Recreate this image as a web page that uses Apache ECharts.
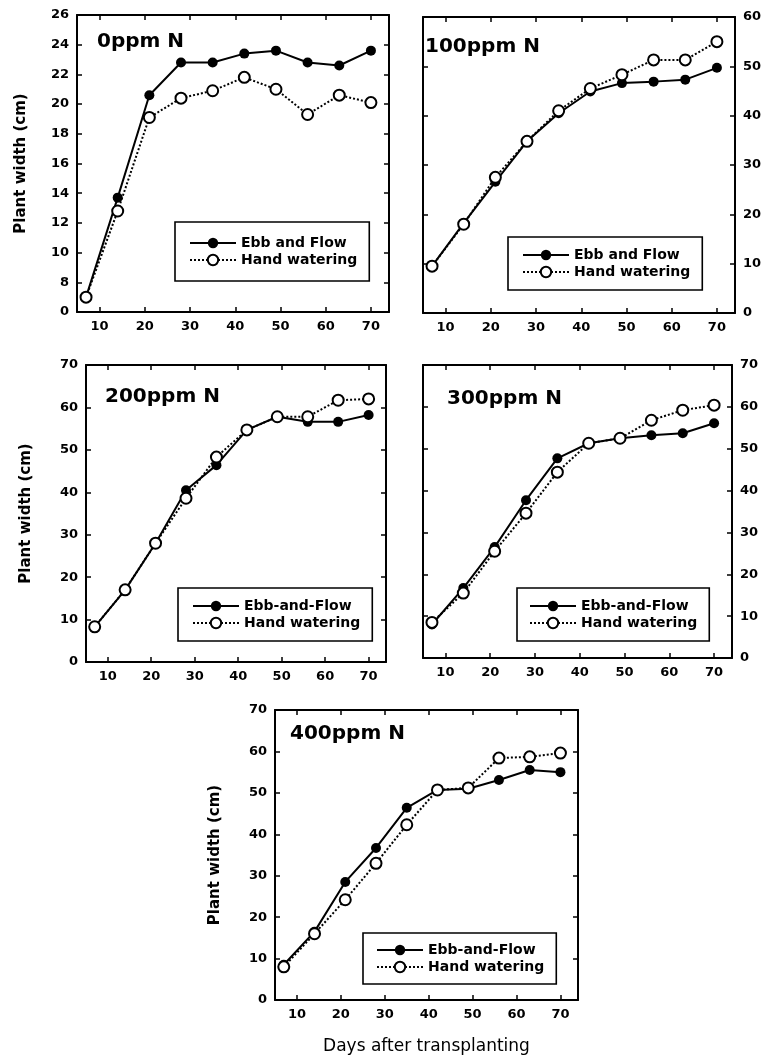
<!DOCTYPE html>
<html>
<head>
<meta charset="utf-8">
<script src="https://cdn.jsdelivr.net/npm/echarts@6/dist/echarts.min.js"></script>
<style>
  html, body { margin: 0; padding: 0; background: #fff; }
  #chart { width: 768px; height: 1060px; }
</style>
</head>
<body>
<div id="chart"></div>
<script>
// Sampling days (weekly measurements after transplanting)
const days = [7, 14, 21, 28, 35, 42, 49, 56, 63, 70];
const xTicks = [10, 20, 30, 40, 50, 60, 70];

// Plant width (cm) per nitrogen level
const ebb0    = [7.0, 13.7, 20.6, 22.8, 22.8, 23.4, 23.6, 22.8, 22.6, 23.6];
const hand0   = [7.0, 12.8, 19.1, 20.4, 20.9, 21.8, 21.0, 19.3, 20.6, 20.1];
const ebb100  = [9.5, 18.2, 26.6, 34.8, 40.5, 44.9, 46.6, 46.9, 47.3, 49.7];
const hand100 = [9.5, 18.0, 27.5, 34.8, 41.0, 45.5, 48.3, 51.3, 51.3, 55.0];
const ebb200  = [8.3, 17.0, 28.0, 40.5, 46.4, 54.7, 57.8, 56.6, 56.6, 58.2];
const hand200 = [8.3, 17.0, 28.0, 38.6, 48.3, 54.7, 57.8, 57.8, 61.7, 62.0];
const ebb300  = [8.0, 16.7, 26.5, 37.7, 47.7, 51.3, 52.5, 53.2, 53.7, 56.1];
const hand300 = [8.5, 15.5, 25.5, 34.6, 44.4, 51.3, 52.5, 56.8, 59.2, 60.4];
const ebb400  = [8.5, 16.5, 28.5, 36.7, 46.4, 50.7, 51.0, 53.1, 55.5, 55.0];
const hand400 = [8.0, 16.0, 24.2, 33.0, 42.3, 50.7, 51.2, 58.4, 58.7, 59.6];

// Texts
const panelTitles = ['0ppm N', '100ppm N', '200ppm N', '300ppm N', '400ppm N'];
const ebbNames = ['Ebb and Flow', 'Ebb and Flow', 'Ebb-and-Flow', 'Ebb-and-Flow', 'Ebb-and-Flow'];
const handName = 'Hand watering';
const yTitle = 'Plant width (cm)';
const xTitle = 'Days after transplanting';
// The 0ppm panel uses a broken axis: its lowest tick (6) is labelled 0
const yTickLabels0 = { 6: '0' };

const FONT = '"DejaVu Sans", "Liberation Sans", Arial, sans-serif';

const panels = [
  { ebb: ebb0, hand: hand0, yMin: 6, yMax: 26, yInt: 2, labelSide: 'left', yName: true,
    grid: { left: 77, top: 15, width: 312, height: 297 },
    title: { left: 97, top: 32 },
    legend: { left: 175, top: 222, padding: [14, 12, 14, 14] } },
  { ebb: ebb100, hand: hand100, yMin: 0, yMax: 60, yInt: 10, labelSide: 'right', yName: false,
    grid: { left: 423, top: 17, width: 312, height: 296 },
    title: { left: 425, top: 37 },
    legend: { left: 508, top: 237, padding: [11, 12, 11, 14] } },
  { ebb: ebb200, hand: hand200, yMin: 0, yMax: 70, yInt: 10, labelSide: 'left', yName: true,
    grid: { left: 86, top: 365, width: 300, height: 297 },
    title: { left: 105, top: 387 },
    legend: { left: 178, top: 588, padding: [11, 12, 11, 14] } },
  { ebb: ebb300, hand: hand300, yMin: 0, yMax: 70, yInt: 10, labelSide: 'right', yName: false,
    grid: { left: 423, top: 365, width: 309, height: 293 },
    title: { left: 447, top: 389 },
    legend: { left: 517, top: 588, padding: [11, 12, 11, 12] } },
  { ebb: ebb400, hand: hand400, yMin: 0, yMax: 70, yInt: 10, labelSide: 'left', yName: true,
    grid: { left: 275, top: 710, width: 303, height: 290 },
    title: { left: 290, top: 724 },
    legend: { left: 363, top: 933, padding: [10, 12, 10, 13] } }
];

const axisLine = { show: true, onZero: false, lineStyle: { color: '#000', width: 2 } };
const axisTick = (vals) => ({ show: true, inside: true, length: 5, customValues: vals,
  lineStyle: { color: '#000', width: 1.5 } });
const tickFont = { color: '#000', fontFamily: FONT, fontWeight: 'bold', fontSize: 13 };

const grids = [], xAxes = [], yAxes = [], series = [], legends = [], titles = [];

panels.forEach((p, i) => {
  grids.push(Object.assign({ containLabel: false, outerBoundsMode: 'none' }, p.grid));

  // bottom x axis with labels, top x axis with ticks only
  xAxes.push({
    type: 'value', gridIndex: i, position: 'bottom', min: 5, max: 74,
    axisLine, axisTick: axisTick(xTicks), splitLine: { show: false },
    axisLabel: Object.assign({ show: true, margin: 8, customValues: xTicks }, tickFont),
    name: i === 4 ? xTitle : '', nameLocation: 'middle', nameGap: 38,
    nameTextStyle: { color: '#000', fontFamily: FONT, fontSize: 17 }
  });
  xAxes.push({
    type: 'value', gridIndex: i, position: 'top', min: 5, max: 74,
    axisLine, axisTick: axisTick(xTicks), splitLine: { show: false },
    axisLabel: { show: false }
  });

  const fmt = (v) => (i === 0 && yTickLabels0[v] !== undefined) ? yTickLabels0[v] : String(v);
  ['left', 'right'].forEach((side) => {
    const showLabel = side === p.labelSide;
    yAxes.push({
      type: 'value', gridIndex: i, position: side, min: p.yMin, max: p.yMax, interval: p.yInt,
      axisLine, splitLine: { show: false },
      axisTick: { show: true, inside: true, length: 5, lineStyle: { color: '#000', width: 1.5 } },
      axisLabel: Object.assign({ show: showLabel, margin: 8, formatter: fmt }, tickFont),
      name: (side === 'left' && p.yName) ? yTitle : '',
      nameLocation: 'middle', nameRotate: 90, nameGap: i === 0 ? 48 : 52,
      nameTextStyle: { color: '#000', fontFamily: FONT, fontWeight: 'bold', fontSize: 15 }
    });
  });

  series.push({
    name: ebbNames[i], type: 'line', xAxisIndex: 2 * i, yAxisIndex: 2 * i,
    data: days.map((d, k) => [d, p.ebb[k]]),
    symbol: 'circle', symbolSize: 10,
    itemStyle: { color: '#000' },
    lineStyle: { color: '#000', width: 2, type: 'solid' },
    z: 2, animation: false
  });
  series.push({
    name: handName, type: 'line', xAxisIndex: 2 * i, yAxisIndex: 2 * i,
    data: days.map((d, k) => [d, p.hand[k]]),
    symbol: 'emptyCircle', symbolSize: 11,
    itemStyle: { color: '#000', borderColor: '#000', borderWidth: 1.6 },
    lineStyle: { color: '#000', width: 2, type: 'dotted' },
    z: 3, animation: false
  });

  legends.push({
    data: [ebbNames[i], handName],
    left: p.legend.left, top: p.legend.top, padding: p.legend.padding,
    orient: 'vertical', itemWidth: 46, itemHeight: 13, itemGap: 3,
    borderColor: '#000', borderWidth: 1.6, backgroundColor: '#fff',
    selectedMode: false,
    textStyle: { color: '#000', fontFamily: FONT, fontWeight: 'bold', fontSize: 14, padding: [0, 0, 0, 0] }
  });

  titles.push({
    text: panelTitles[i], left: p.title.left, top: p.title.top, padding: 0,
    textStyle: { color: '#000', fontFamily: FONT, fontWeight: 'bold', fontSize: 20 }
  });
});

const chart = echarts.init(document.getElementById('chart'), null, { renderer: 'canvas' });
chart.setOption({
  backgroundColor: '#fff',
  animation: false,
  title: titles,
  legend: legends,
  grid: grids,
  xAxis: xAxes,
  yAxis: yAxes,
  series: series
});
</script>
</body>
</html>
